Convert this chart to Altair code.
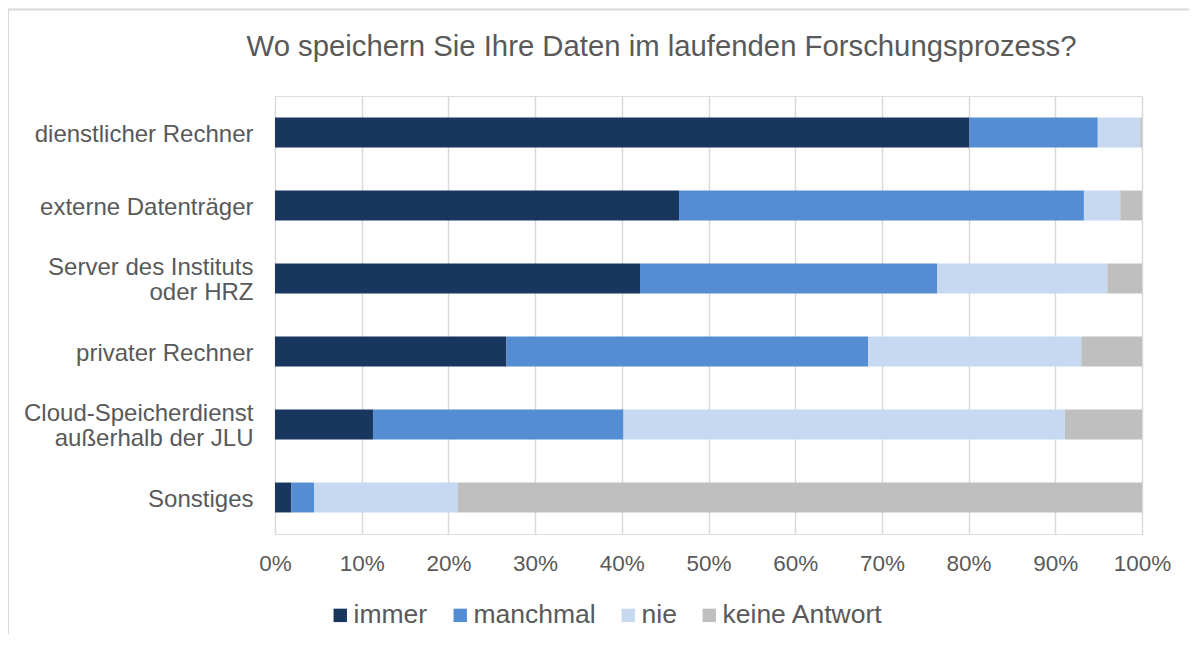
import altair as alt
import pandas as pd

categories = [
    "dienstlicher Rechner",
    "externe Datenträger",
    "Server des Instituts\noder HRZ",
    "privater Rechner",
    "Cloud-Speicherdienst\naußerhalb der JLU",
    "Sonstiges",
]
series = ["immer", "manchmal", "nie", "keine Antwort"]
immer = [80.1, 46.6, 42.1, 26.7, 11.3, 1.9]
manchmal = [14.8, 46.7, 34.3, 41.7, 28.9, 2.6]
nie = [4.9, 4.2, 19.6, 24.6, 50.9, 16.6]
keine_antwort = [0.2, 2.5, 4.0, 7.0, 8.9, 78.9]
colors = ["#18365E", "#548DD4", "#C6D9F1", "#BFBFBF"]
tick_values = [0, 0.1, 0.2, 0.3, 0.4, 0.5, 0.6, 0.7, 0.8, 0.9, 1.0]
title_text = "Wo speichern Sie Ihre Daten im laufenden Forschungsprozess?"

rows = []
for s_i, (s, vals) in enumerate(zip(series, [immer, manchmal, nie, keine_antwort])):
    for c, v in zip(categories, vals):
        rows.append({"Kategorie": c, "Antwort": s, "Wert": v, "Reihenfolge": s_i})
df = pd.DataFrame(rows)

FONT = "Liberation Sans"
TXT = "#595959"
GRID = "#D9D9D9"

bars = alt.Chart(df).mark_bar().encode(
    y=alt.Y(
        "Kategorie:N",
        sort=categories,
        title=None,
        scale=alt.Scale(paddingInner=0.59, paddingOuter=0.295),
        axis=alt.Axis(
            labelExpr="split(datum.label, '\\n')",
            labelFontSize=24,
            labelLineHeight=25,
            labelColor=TXT,
            labelFont=FONT,
            labelPadding=22,
            labelOffset={
                "condition": {"test": "indexof(datum.value, '\\n') >= 0", "value": -10.5},
                "value": 2,
            },
            ticks=False,
            domain=False,
            grid=False,
            labelLimit=400,
        ),
    ),
    x=alt.X(
        "Wert:Q",
        stack="normalize",
        title=None,
        scale=alt.Scale(domain=[0, 1], nice=False),
        axis=alt.Axis(
            values=tick_values,
            format=".0%",
            labelFontSize=22.5,
            labelColor=TXT,
            labelFont=FONT,
            labelPadding=18,
            labelFlush=False,
            ticks=False,
            domain=False,
            grid=True,
            gridColor=GRID,
            gridWidth=1.5,
        ),
    ),
    color=alt.Color(
        "Antwort:N",
        sort=series,
        scale=alt.Scale(domain=series, range=colors),
        legend=alt.Legend(
            title=None,
            orient="none",
            direction="horizontal",
            legendX=52,
            legendY=506,
            symbolType="square",
            symbolSize=180,
            symbolStrokeWidth=0,
            labelFontSize=26.5,
            labelColor=TXT,
            labelFont=FONT,
            labelOffset=0,
            columnPadding=19,
            padding=0,
            labelLimit=400,
        ),
    ),
    order=alt.Order("Reihenfolge:Q", sort="ascending"),
)

frame_top = alt.Chart(alt.Data(values=[{}])).mark_rule(color=GRID, strokeWidth=2).encode(
    x=alt.value(-267), x2=alt.value(930), y=alt.value(-86.5)
)
frame_left = alt.Chart(alt.Data(values=[{}])).mark_rule(color=GRID, strokeWidth=2).encode(
    x=alt.value(-267), y=alt.value(-87.5), y2=alt.value(560)
)

chart = (
    alt.layer(frame_top, frame_left, bars)
    .properties(
        width=867,
        height=438,
        title=alt.TitleParams(
            title_text,
            anchor="middle",
            frame="group",
            dx=-47,
            dy=77.5,
            offset=0,
            baseline="alphabetic",
            fontSize=29.3,
            font=FONT,
            fontWeight="normal",
            color=TXT,
        ),
        autosize=alt.AutoSizeParams(type="none"),
        padding={"left": 267, "top": 88, "right": 47, "bottom": 100},
    )
    .configure_view(stroke=None)
    .configure(background="white")
)

chart.save("out.html", embed_options={"renderer": "svg", "actions": False})
